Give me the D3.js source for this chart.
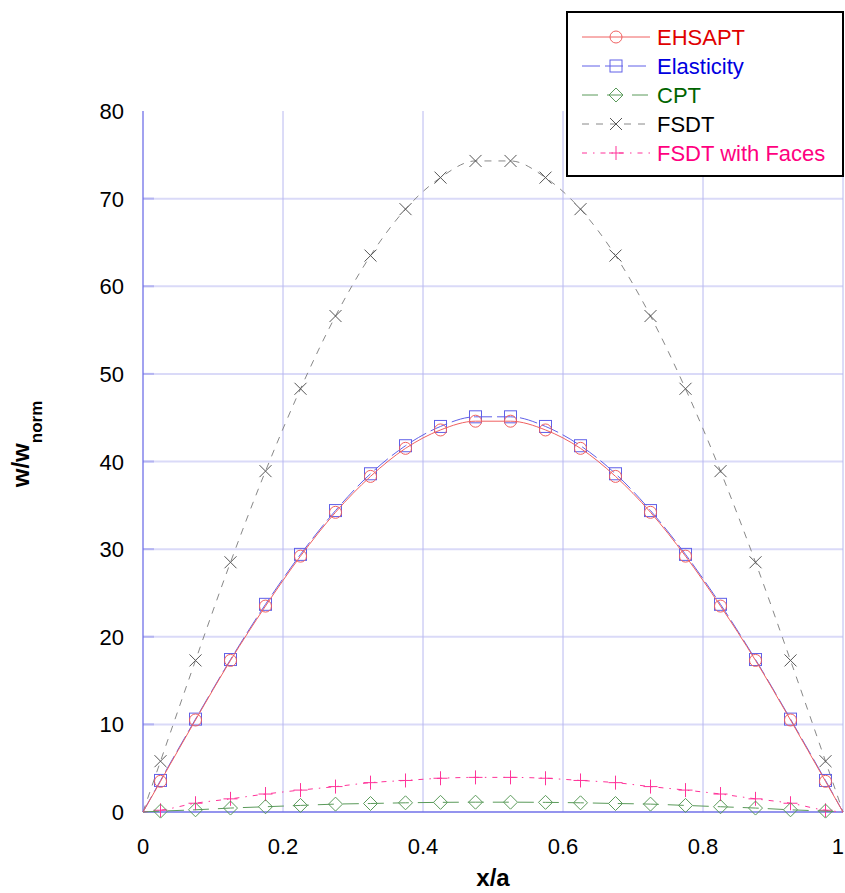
<!DOCTYPE html>
<html>
<head>
<meta charset="utf-8">
<script src="https://cdn.jsdelivr.net/npm/d3@7"></script>
<style>
  body { margin: 0; background: #fff; }
  svg { display: block; font-family: "Liberation Sans", Arial, sans-serif; }
</style>
</head>
<body>
<div id="chart"></div>
<script>
// sample positions x/a
const xs = [0.025, 0.075, 0.125, 0.175, 0.225, 0.275, 0.325, 0.375, 0.425, 0.475,
            0.525, 0.575, 0.625, 0.675, 0.725, 0.775, 0.825, 0.875, 0.925, 0.975];

const ehsapt = [3.5, 10.5, 17.3, 23.5, 29.2, 34.2, 38.3, 41.5, 43.6, 44.6,
                44.6, 43.6, 41.5, 38.3, 34.2, 29.2, 23.5, 17.3, 10.5, 3.5];
const elasticity = [3.6, 10.6, 17.4, 23.7, 29.4, 34.4, 38.6, 41.8, 44.0, 45.1,
                    45.1, 44.0, 41.8, 38.6, 34.4, 29.4, 23.7, 17.4, 10.6, 3.6];
const cpt = [0.1, 0.25, 0.45, 0.6, 0.75, 0.9, 0.97, 1.05, 1.1, 1.12,
             1.12, 1.1, 1.05, 0.97, 0.9, 0.75, 0.6, 0.45, 0.25, 0.1];
const fsdt = [5.8, 17.3, 28.5, 38.9, 48.3, 56.6, 63.5, 68.8, 72.4, 74.3,
              74.3, 72.4, 68.8, 63.5, 56.6, 48.3, 38.9, 28.5, 17.3, 5.8];
const fsdtFaces = [0.2, 1.0, 1.5, 2.05, 2.5, 2.9, 3.35, 3.6, 3.85, 3.95,
                   3.95, 3.85, 3.6, 3.35, 2.9, 2.5, 2.05, 1.5, 1.0, 0.2];

const xTicks = [0, 0.2, 0.4, 0.6, 0.8, 1];
const yTicks = [0, 10, 20, 30, 40, 50, 60, 70, 80];

const series = [
  {name: "EHSAPT", values: ehsapt, stroke: "#f06060", text: "#e00000", dash: null, marker: "circle"},
  {name: "Elasticity", values: elasticity, stroke: "#6060e8", text: "#0000e0", dash: "18,5", marker: "square"},
  {name: "CPT", values: cpt, stroke: "#5a9a5a", text: "#006400", dash: "16,9", marker: "diamond"},
  {name: "FSDT", values: fsdt, stroke: "#888888", text: "#000000", dash: "7,7", marker: "cross"},
  {name: "FSDT with Faces", values: fsdtFaces, stroke: "#ff3399", text: "#ff0080", dash: "5,6,1.5,6", marker: "plus"}
];

const w = 845, h = 893;
const pLeft = 143, pRight = 843, pTop = 111, pBottom = 812;

const x = d3.scaleLinear().domain([0, 1]).range([pLeft, pRight]);
const y = d3.scaleLinear().domain([0, 80]).range([pBottom, pTop]);

const svg = d3.select("#chart").append("svg").attr("width", w).attr("height", h);

// horizontal grid
svg.append("g").selectAll("line").data(yTicks.filter(d => d > 0 && d < 80)).enter().append("line")
  .attr("x1", pLeft).attr("x2", pRight)
  .attr("y1", d => y(d)).attr("y2", d => y(d))
  .attr("stroke", "#dadaf8").attr("stroke-width", 2);
svg.append("g").selectAll("line").data(yTicks.filter(d => d > 0 && d < 80)).enter().append("line")
  .attr("x1", pLeft).attr("x2", pLeft + 11)
  .attr("y1", d => y(d)).attr("y2", d => y(d))
  .attr("stroke", "#b4b4f2").attr("stroke-width", 2);

// vertical grid
svg.append("g").selectAll("line").data(xTicks.filter(d => d > 0)).enter().append("line")
  .attr("x1", d => x(d)).attr("x2", d => x(d))
  .attr("y1", pTop).attr("y2", pBottom)
  .attr("stroke", "#b8b8f0").attr("stroke-width", 1);

// axes lines
svg.append("line").attr("x1", pLeft).attr("x2", pLeft).attr("y1", pTop).attr("y2", pBottom)
  .attr("stroke", "#7070e8").attr("stroke-width", 1.3);
svg.append("line").attr("x1", pLeft).attr("x2", pRight).attr("y1", pBottom).attr("y2", pBottom)
  .attr("stroke", "#7070e8").attr("stroke-width", 1.5);

// tick labels
svg.append("g").selectAll("text").data(yTicks).enter().append("text")
  .attr("x", 124).attr("y", d => y(d) + 8)
  .attr("text-anchor", "end").attr("font-size", 22).text(d => d);
svg.append("g").selectAll("text").data(xTicks).enter().append("text")
  .attr("x", d => d === 1 ? w - 1 : x(d)).attr("y", 854)
  .attr("text-anchor", d => d === 1 ? "end" : "middle")
  .attr("font-size", 22).text(d => d);

// axis titles
svg.append("text").attr("x", 493).attr("y", 886).attr("text-anchor", "middle")
  .attr("font-size", 24).attr("font-weight", "bold").text("x/a");
const yt = svg.append("text").attr("transform", "translate(29,444) rotate(-90)")
  .attr("text-anchor", "middle").attr("font-size", 24).attr("font-weight", "bold");
yt.append("tspan").text("w/w");
yt.append("tspan").attr("dy", 13).attr("font-size", 17).text("norm");

function drawMarker(g, type, cx, cy, color) {
  if (type === "circle") {
    g.append("circle").attr("cx", cx).attr("cy", cy).attr("r", 6)
      .attr("fill", "none").attr("stroke", color).attr("stroke-width", 1);
  } else if (type === "square") {
    g.append("rect").attr("x", cx - 6).attr("y", cy - 6).attr("width", 12).attr("height", 12)
      .attr("fill", "none").attr("stroke", color).attr("stroke-width", 1);
  } else if (type === "diamond") {
    g.append("path").attr("d", `M${cx},${cy - 7}L${cx + 7},${cy}L${cx},${cy + 7}L${cx - 7},${cy}Z`)
      .attr("fill", "none").attr("stroke", color).attr("stroke-width", 1);
  } else if (type === "cross") {
    g.append("path").attr("d", `M${cx - 6},${cy - 6}L${cx + 6},${cy + 6}M${cx - 6},${cy + 6}L${cx + 6},${cy - 6}`)
      .attr("stroke", "#555").attr("stroke-width", 1);
  } else if (type === "plus") {
    g.append("path").attr("d", `M${cx - 7},${cy}L${cx + 7},${cy}M${cx},${cy - 7}L${cx},${cy + 7}`)
      .attr("stroke", color).attr("stroke-width", 1);
  }
}

const line = d3.line().curve(d3.curveMonotoneX).x(d => x(d[0])).y(d => y(d[1]));

// draw series in back-to-front order
const order = [4, 2, 3, 1, 0];
order.forEach(i => {
  const s = series[i];
  const pts = [[0, 0]].concat(xs.map((v, j) => [v, s.values[j]])).concat([[1, 0]]);
  const g = svg.append("g");
  g.append("path").attr("d", line(pts)).attr("fill", "none")
    .attr("stroke", s.stroke).attr("stroke-width", 1)
    .attr("stroke-dasharray", s.dash);
  xs.forEach((v, j) => drawMarker(g, s.marker, x(v), y(s.values[j]), s.stroke));
});

// legend
const lg = svg.append("g");
lg.append("rect").attr("x", 567).attr("y", 12).attr("width", 276).attr("height", 164)
  .attr("fill", "#fff").attr("stroke", "#000").attr("stroke-width", 2);
series.forEach((s, i) => {
  const ly = 37 + i * 29;
  lg.append("line").attr("x1", 582).attr("x2", 650).attr("y1", ly).attr("y2", ly)
    .attr("stroke", s.stroke).attr("stroke-width", 1).attr("stroke-dasharray", s.dash);
  drawMarker(lg, s.marker, 616, ly, s.stroke);
  lg.append("text").attr("x", 657).attr("y", ly + 8).attr("font-size", 22)
    .attr("fill", s.text).text(s.name);
});
</script>
</body>
</html>
